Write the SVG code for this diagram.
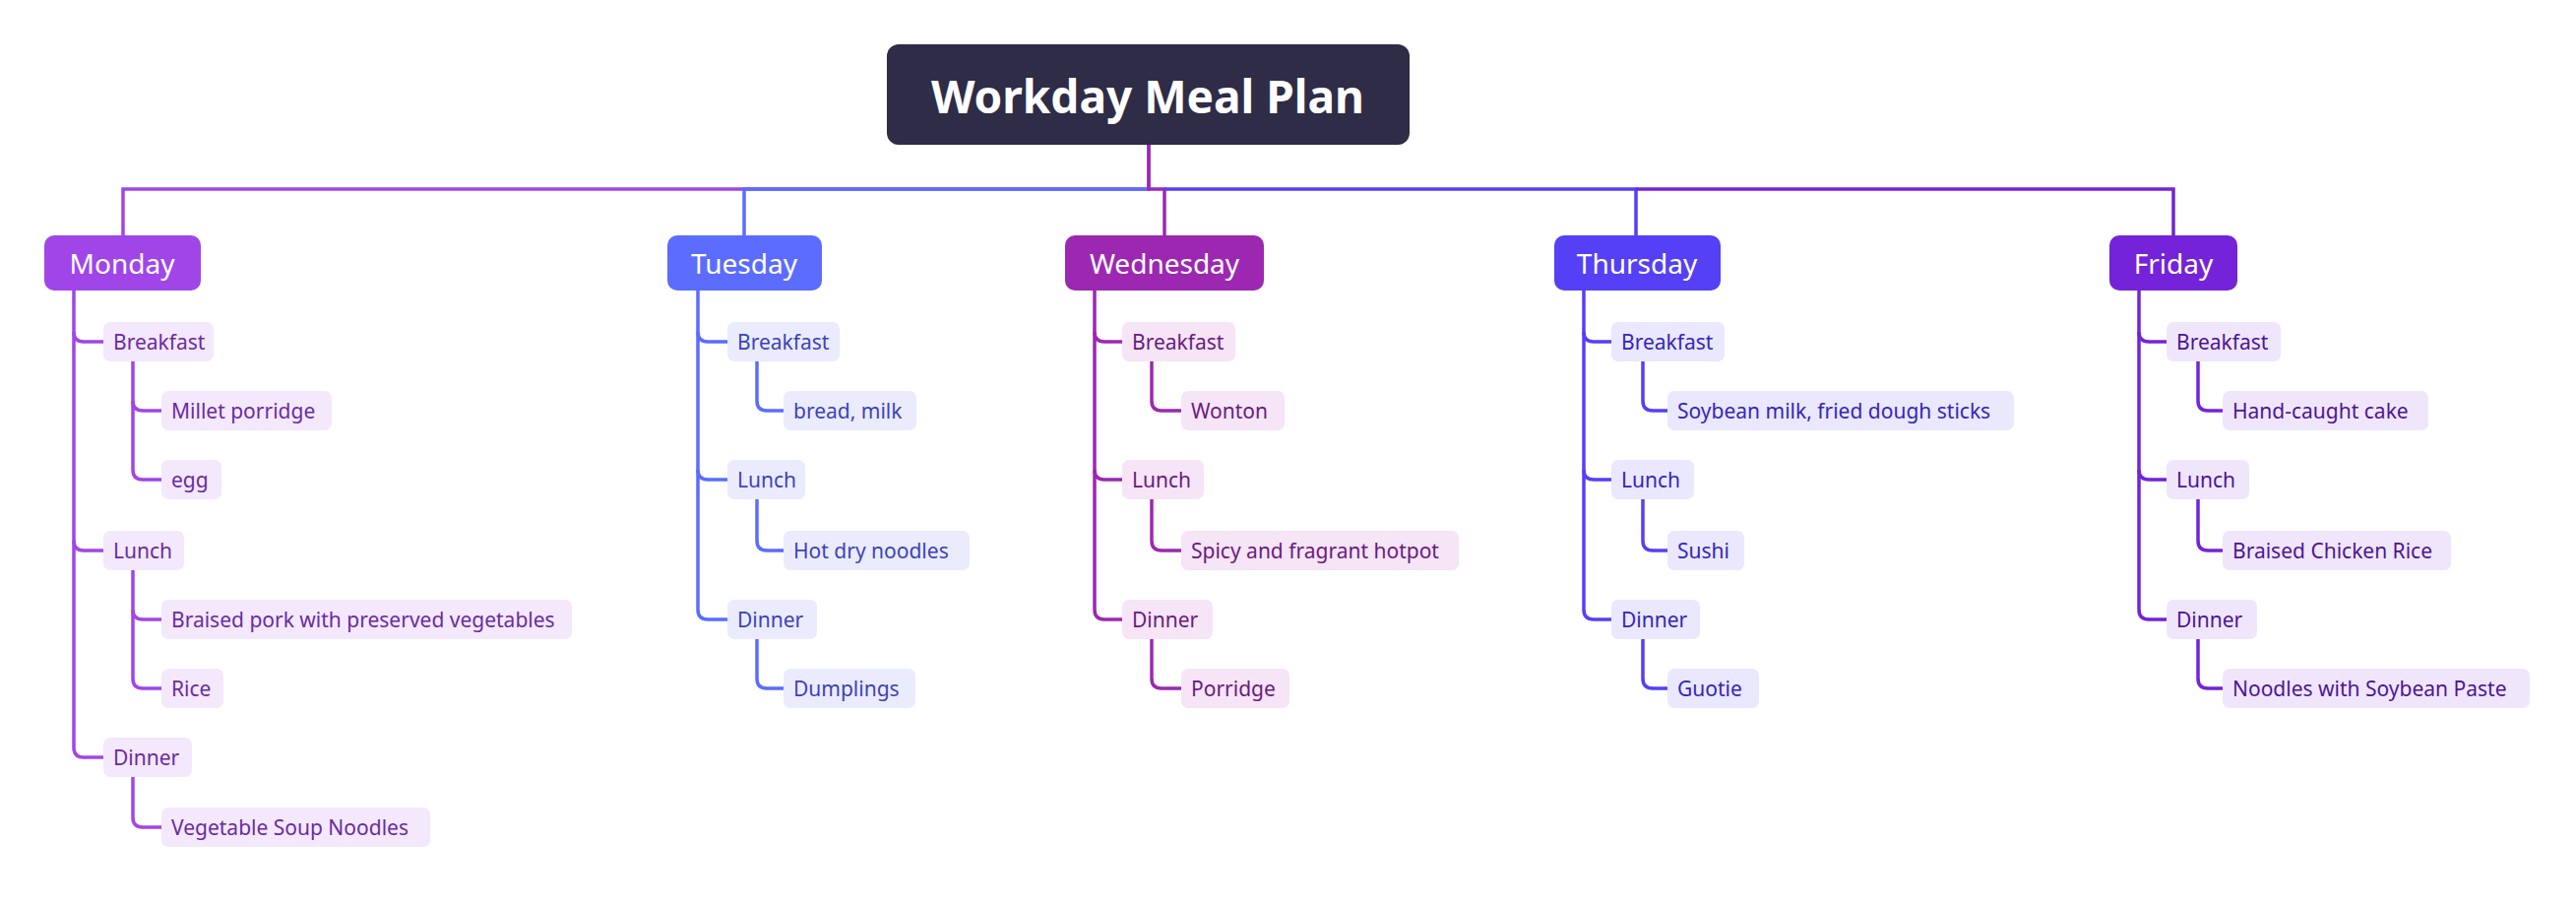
<svg xmlns="http://www.w3.org/2000/svg" width="2617" height="921" viewBox="0 0 2617 921">
<style>
text{font-family:"Segoe UI","Noto Sans","Liberation Sans",sans-serif;dominant-baseline:central}
.t{font-size:46px;font-weight:bold;fill:#fff;text-anchor:middle}
.d{font-size:28px;fill:#fff;text-anchor:middle}
.n{font-size:21px}
path{fill:none;stroke-width:3.5}
.mo path{stroke:#a046e8}.tu path{stroke:#5b6cff}.we path{stroke:#9c28b1}.th path{stroke:#5540f5}.fr path{stroke:#7423d8}
.m rect{fill:#f4e8fc}.m text{fill:#6a2ca0}
.u rect{fill:#ebebfe}.u text{fill:#3b44b8}
.w rect{fill:#f5e5f7}.w text{fill:#6b1a80}
.h rect{fill:#e9e8fe}.h text{fill:#3526b8}
.f rect{fill:#f0e6fc}.f text{fill:#4d1596}
</style>
<rect width="2617" height="921" fill="#fff"/>
<g id="connectors">
<g class="mo"><path d="M1167 147 V192 H125 V239"/>
<path d="M75 295 V337 Q75 347 85 347 H105"/><path d="M75 337 V549 Q75 559 85 559 H105"/><path d="M75 549 V759 Q75 769 85 769 H105"/>
<path d="M135 367 V407 Q135 417 145 417 H164"/><path d="M135 407 V477 Q135 487 145 487 H164"/>
<path d="M135 579 V619 Q135 629 145 629 H164"/><path d="M135 619 V689 Q135 699 145 699 H164"/>
<path d="M135 789 V830 Q135 840 145 840 H164"/></g>
<g class="tu"><path d="M1167 192 H756 V239"/>
<path d="M709 295 V337 Q709 347 719 347 H739"/><path d="M709 337 V477 Q709 487 719 487 H739"/><path d="M709 477 V619 Q709 629 719 629 H739"/>
<path d="M769 367 V407 Q769 417 779 417 H796"/><path d="M769 507 V549 Q769 559 779 559 H796"/><path d="M769 649 V689 Q769 699 779 699 H796"/></g>
<g class="we"><path d="M1167 147 V192 H1183 V239"/>
<path d="M1112 295 V337 Q1112 347 1122 347 H1140"/><path d="M1112 337 V477 Q1112 487 1122 487 H1140"/><path d="M1112 477 V619 Q1112 629 1122 629 H1140"/>
<path d="M1170 367 V407 Q1170 417 1180 417 H1200"/><path d="M1170 507 V549 Q1170 559 1180 559 H1200"/><path d="M1170 649 V689 Q1170 699 1180 699 H1200"/></g>
<g class="th"><path d="M1183 192 H1662 V239"/>
<path d="M1609 295 V337 Q1609 347 1619 347 H1637"/><path d="M1609 337 V477 Q1609 487 1619 487 H1637"/><path d="M1609 477 V619 Q1609 629 1619 629 H1637"/>
<path d="M1669 367 V407 Q1669 417 1679 417 H1694"/><path d="M1669 507 V549 Q1669 559 1679 559 H1694"/><path d="M1669 649 V689 Q1669 699 1679 699 H1694"/></g>
<g class="fr"><path d="M1662 192 H2208 V239"/>
<path d="M2173 295 V337 Q2173 347 2183 347 H2201"/><path d="M2173 337 V477 Q2173 487 2183 487 H2201"/><path d="M2173 477 V619 Q2173 629 2183 629 H2201"/>
<path d="M2233 367 V407 Q2233 417 2243 417 H2258"/><path d="M2233 507 V549 Q2233 559 2243 559 H2258"/><path d="M2233 649 V689 Q2233 699 2243 699 H2258"/></g>
</g>
<g id="root"><rect x="901" y="45" width="531" height="102" rx="12" fill="#2e2c47"/><text class="t" x="1166" y="97">Workday Meal Plan</text></g>
<g id="monday"><rect x="45" y="239" width="159" height="56" rx="10" fill="#a046e8"/><text class="d" x="124" y="267">Monday</text></g>
<g id="tuesday"><rect x="678" y="239" width="157" height="56" rx="10" fill="#5b6cff"/><text class="d" x="756" y="267">Tuesday</text></g>
<g id="wednesday"><rect x="1082" y="239" width="202" height="56" rx="10" fill="#9c28b1"/><text class="d" x="1183" y="267">Wednesday</text></g>
<g id="thursday"><rect x="1579" y="239" width="169" height="56" rx="10" fill="#5540f5"/><text class="d" x="1663" y="267">Thursday</text></g>
<g id="friday"><rect x="2143" y="239" width="130" height="56" rx="10" fill="#7423d8"/><text class="d" x="2208" y="267">Friday</text></g>
<g class="m">
<g id="mon-breakfast"><rect x="105" y="327" width="112" height="40" rx="7"/><text class="n" x="115" y="347">Breakfast</text></g>
<g id="mon-millet"><rect x="164" y="397" width="173" height="40" rx="7"/><text class="n" x="174" y="417">Millet porridge</text></g>
<g id="mon-egg"><rect x="164" y="467" width="61" height="40" rx="7"/><text class="n" x="174" y="487">egg</text></g>
<g id="mon-lunch"><rect x="105" y="539" width="82" height="40" rx="7"/><text class="n" x="115" y="559">Lunch</text></g>
<g id="mon-pork"><rect x="164" y="609" width="417" height="40" rx="7"/><text class="n" x="174" y="629">Braised pork with preserved vegetables</text></g>
<g id="mon-rice"><rect x="164" y="679" width="63" height="40" rx="7"/><text class="n" x="174" y="699">Rice</text></g>
<g id="mon-dinner"><rect x="105" y="749" width="90" height="40" rx="7"/><text class="n" x="115" y="769">Dinner</text></g>
<g id="mon-veg"><rect x="164" y="820" width="273" height="40" rx="7"/><text class="n" x="174" y="840">Vegetable Soup Noodles</text></g>
</g>
<g class="u">
<g id="tue-breakfast"><rect x="739" y="327" width="114" height="40" rx="7"/><text class="n" x="749" y="347">Breakfast</text></g>
<g id="tue-bread"><rect x="796" y="397" width="135" height="40" rx="7"/><text class="n" x="806" y="417">bread, milk</text></g>
<g id="tue-lunch"><rect x="739" y="467" width="79" height="40" rx="7"/><text class="n" x="749" y="487">Lunch</text></g>
<g id="tue-hot"><rect x="796" y="539" width="189" height="40" rx="7"/><text class="n" x="806" y="559">Hot dry noodles</text></g>
<g id="tue-dinner"><rect x="739" y="609" width="91" height="40" rx="7"/><text class="n" x="749" y="629">Dinner</text></g>
<g id="tue-dump"><rect x="796" y="679" width="134" height="40" rx="7"/><text class="n" x="806" y="699">Dumplings</text></g>
</g>
<g class="w">
<g id="wed-breakfast"><rect x="1140" y="327" width="115" height="40" rx="7"/><text class="n" x="1150" y="347">Breakfast</text></g>
<g id="wed-wonton"><rect x="1200" y="397" width="105" height="40" rx="7"/><text class="n" x="1210" y="417">Wonton</text></g>
<g id="wed-lunch"><rect x="1140" y="467" width="83" height="40" rx="7"/><text class="n" x="1150" y="487">Lunch</text></g>
<g id="wed-spicy"><rect x="1200" y="539" width="282" height="40" rx="7"/><text class="n" x="1210" y="559">Spicy and fragrant hotpot</text></g>
<g id="wed-dinner"><rect x="1140" y="609" width="92" height="40" rx="7"/><text class="n" x="1150" y="629">Dinner</text></g>
<g id="wed-porridge"><rect x="1200" y="679" width="110" height="40" rx="7"/><text class="n" x="1210" y="699">Porridge</text></g>
</g>
<g class="h">
<g id="thu-breakfast"><rect x="1637" y="327" width="115" height="40" rx="7"/><text class="n" x="1647" y="347">Breakfast</text></g>
<g id="thu-soy"><rect x="1694" y="397" width="352" height="40" rx="7"/><text class="n" x="1704" y="417">Soybean milk, fried dough sticks</text></g>
<g id="thu-lunch"><rect x="1637" y="467" width="84" height="40" rx="7"/><text class="n" x="1647" y="487">Lunch</text></g>
<g id="thu-sushi"><rect x="1694" y="539" width="78" height="40" rx="7"/><text class="n" x="1704" y="559">Sushi</text></g>
<g id="thu-dinner"><rect x="1637" y="609" width="90" height="40" rx="7"/><text class="n" x="1647" y="629">Dinner</text></g>
<g id="thu-guotie"><rect x="1694" y="679" width="93" height="40" rx="7"/><text class="n" x="1704" y="699">Guotie</text></g>
</g>
<g class="f">
<g id="fri-breakfast"><rect x="2201" y="327" width="116" height="40" rx="7"/><text class="n" x="2211" y="347">Breakfast</text></g>
<g id="fri-cake"><rect x="2258" y="397" width="209" height="40" rx="7"/><text class="n" x="2268" y="417">Hand-caught cake</text></g>
<g id="fri-lunch"><rect x="2201" y="467" width="84" height="40" rx="7"/><text class="n" x="2211" y="487">Lunch</text></g>
<g id="fri-chicken"><rect x="2258" y="539" width="232" height="40" rx="7"/><text class="n" x="2268" y="559">Braised Chicken Rice</text></g>
<g id="fri-dinner"><rect x="2201" y="609" width="92" height="40" rx="7"/><text class="n" x="2211" y="629">Dinner</text></g>
<g id="fri-noodles"><rect x="2258" y="679" width="312" height="40" rx="7"/><text class="n" x="2268" y="699">Noodles with Soybean Paste</text></g>
</g>
</svg>
